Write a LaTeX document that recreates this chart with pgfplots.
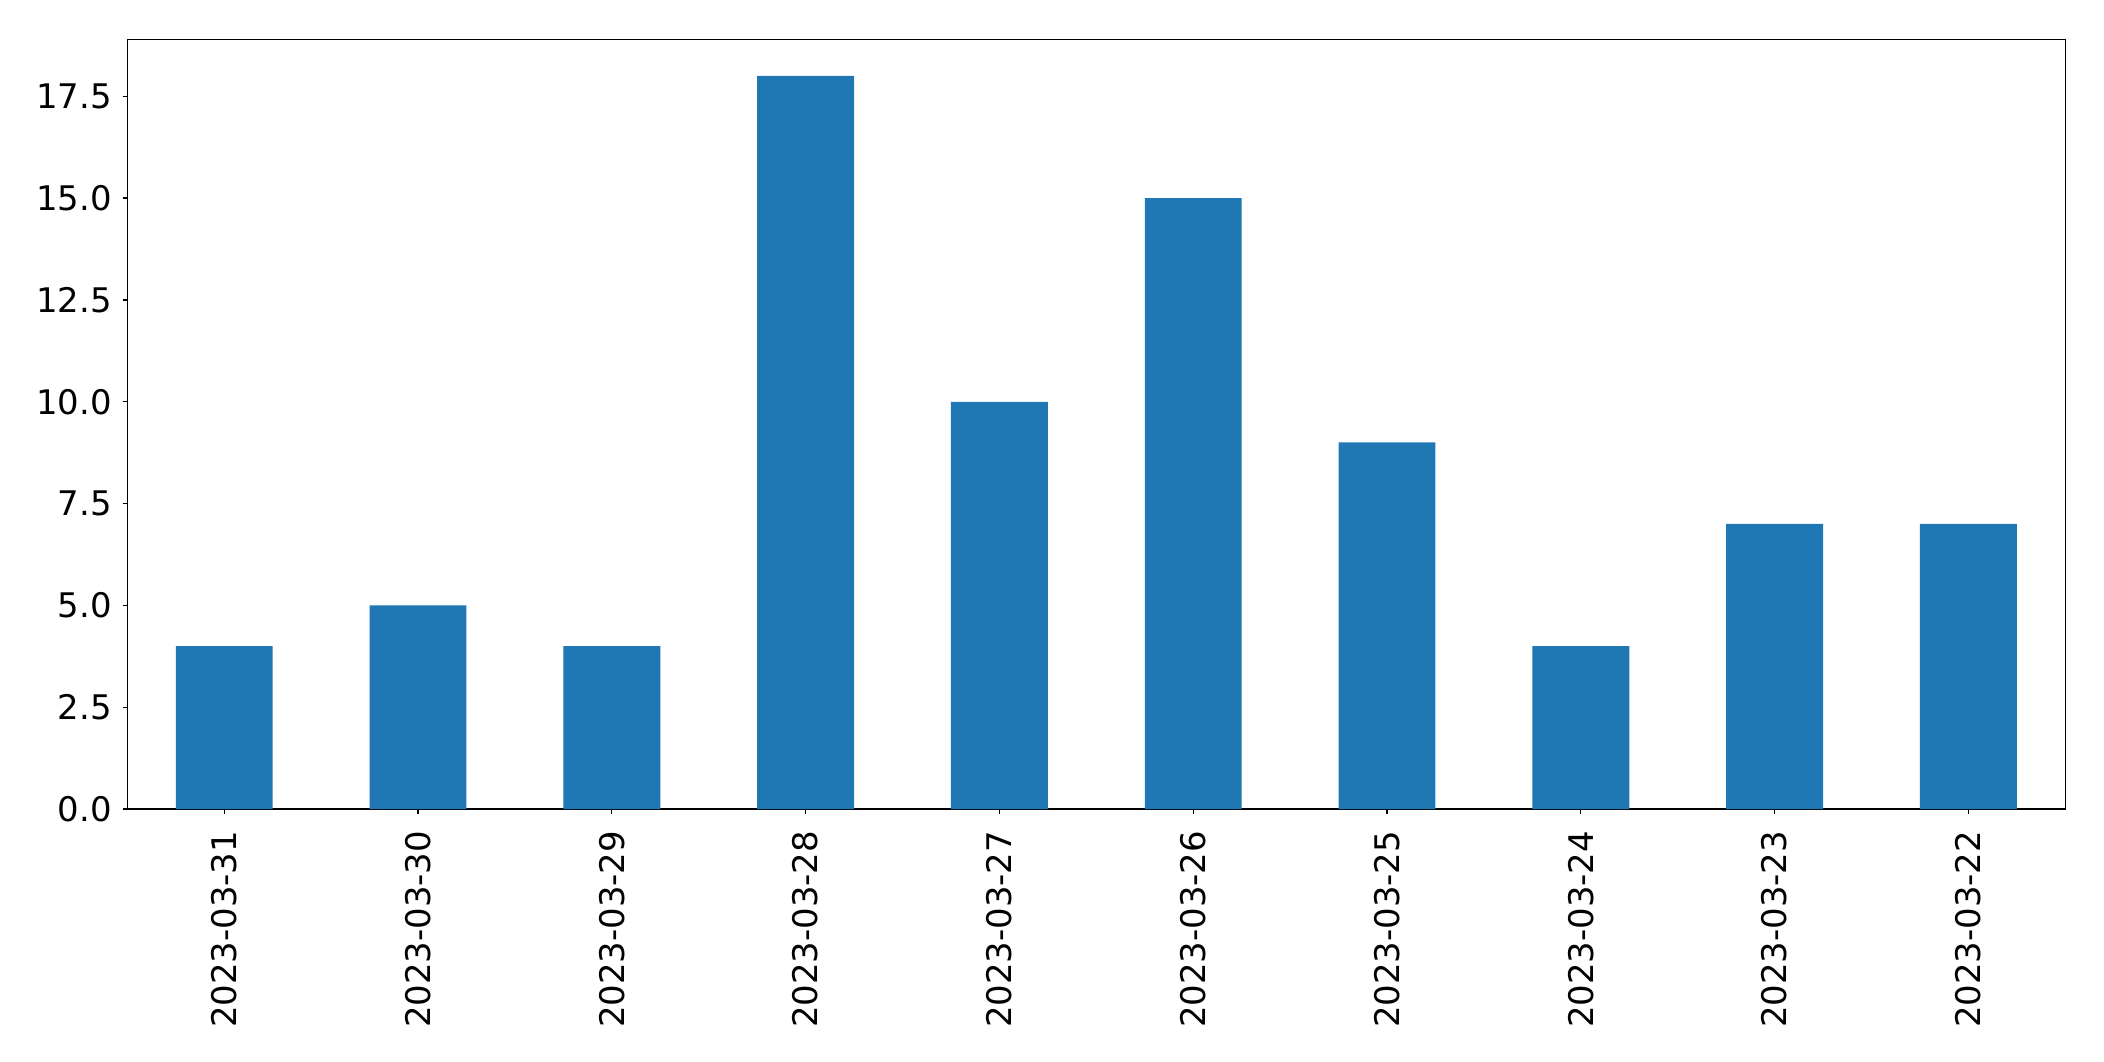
\documentclass[border=0pt]{standalone}
\usepackage{fontspec}
\setmainfont{DejaVu Sans}
\usepackage{pgfplots}
\pgfplotsset{compat=1.18}
\definecolor{mplblue}{HTML}{1F77B4}
\begin{document}
\fontsize{12.2pt}{14.6pt}\selectfont
\begin{tikzpicture}
\begin{axis}[
  scale only axis,
  width=697.7pt, height=277.1pt,
  xmin=-0.5, xmax=9.5,
  ymin=0, ymax=18.9,
  axis line style={line width=0.47pt, black},
  every tick/.style={line width=0.47pt, black},
  tick align=outside,
  tick pos=left,
  major tick length=1.7pt,
  xtick={0,...,9},
  xticklabels={2023-03-31,2023-03-30,2023-03-29,2023-03-28,2023-03-27,2023-03-26,2023-03-25,2023-03-24,2023-03-23,2023-03-22},
  xticklabel style={rotate=90, anchor=east, inner sep=0pt, xshift=-6pt},
  ytick={0,2.5,5,7.5,10,12.5,15,17.5},
  yticklabel style={inner sep=0pt, xshift=-3.7pt,
    /pgf/number format/.cd, fixed, fixed zerofill, precision=1, assume math mode=true},
  /pgf/number format/assume math mode=true,
  ticklabel style={font=\fontsize{12.2pt}{14.6pt}\selectfont},
]
\addplot[ybar, bar width=0.5, fill=mplblue, draw=none] coordinates {
  (0,4) (1,5) (2,4) (3,18) (4,10) (5,15) (6,9) (7,4) (8,7) (9,7)
};
\end{axis}
\path (current axis.south west) ++(-45.83pt,-90.72pt) coordinate (bbsw);
\path (current axis.north east) ++(13.93pt,14.15pt) coordinate (bbne);
\useasboundingbox (bbsw) rectangle (bbne);
\end{tikzpicture}
\end{document}
